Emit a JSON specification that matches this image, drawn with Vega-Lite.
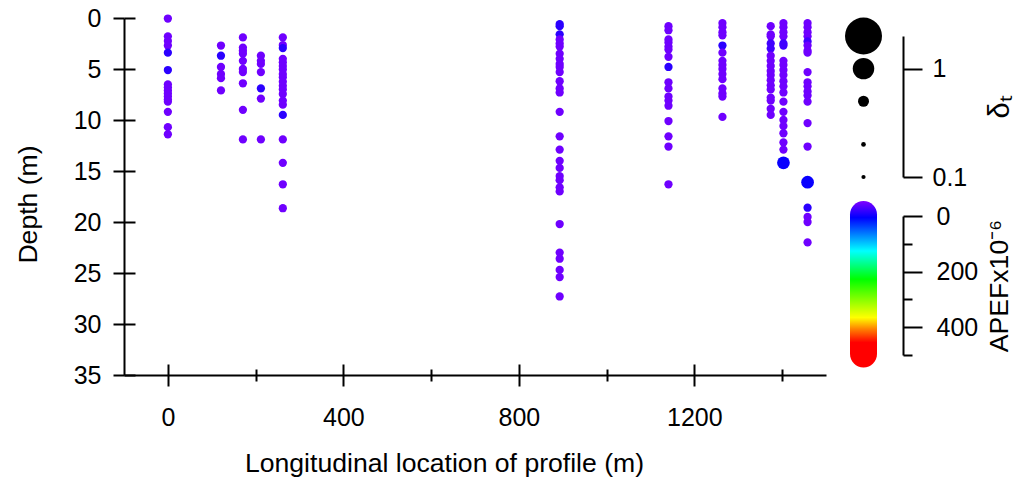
{
  "$schema": "https://vega.github.io/schema/vega-lite/v6.json",
  "background": "white",
  "padding": {"left": 15, "top": 6, "right": 5, "bottom": 5},
  "config": {
    "font": "Liberation Sans",
    "view": {"stroke": null},
    "axis": {
      "labelFont": "Liberation Sans", "titleFont": "Liberation Sans",
      "labelFontSize": 25, "titleFontSize": 26.6, "titleFontWeight": "normal",
      "labelColor": "black", "titleColor": "black", "domainColor": "black", "tickColor": "black",
      "domainWidth": 2, "tickWidth": 2, "grid": false, "labelFlush": false, "labelOverlap": false, "labelBound": false
    }
  },
  "datasets": {
    "profiles": [
      {"loc": 0, "depth": 0.05, "apef": 8, "delta": 0.34},
      {"loc": 0, "depth": 1.8, "apef": 8, "delta": 0.34},
      {"loc": 0, "depth": 2.25, "apef": 8, "delta": 0.34},
      {"loc": 0, "depth": 2.7, "apef": 8, "delta": 0.34},
      {"loc": 0, "depth": 3.4, "apef": 40, "delta": 0.34},
      {"loc": 0, "depth": 5.1, "apef": 40, "delta": 0.34},
      {"loc": 0, "depth": 6.5, "apef": 8, "delta": 0.34},
      {"loc": 0, "depth": 6.8, "apef": 8, "delta": 0.34},
      {"loc": 0, "depth": 7.1, "apef": 8, "delta": 0.34},
      {"loc": 0, "depth": 7.4, "apef": 8, "delta": 0.34},
      {"loc": 0, "depth": 7.7, "apef": 8, "delta": 0.34},
      {"loc": 0, "depth": 8.0, "apef": 8, "delta": 0.34},
      {"loc": 0, "depth": 8.2, "apef": 8, "delta": 0.34},
      {"loc": 0, "depth": 9.2, "apef": 8, "delta": 0.34},
      {"loc": 0, "depth": 10.7, "apef": 8, "delta": 0.34},
      {"loc": 0, "depth": 11.4, "apef": 8, "delta": 0.34},
      {"loc": 121, "depth": 2.7, "apef": 8, "delta": 0.34},
      {"loc": 121, "depth": 3.7, "apef": 40, "delta": 0.34},
      {"loc": 121, "depth": 4.8, "apef": 8, "delta": 0.34},
      {"loc": 121, "depth": 5.5, "apef": 8, "delta": 0.34},
      {"loc": 121, "depth": 5.9, "apef": 8, "delta": 0.34},
      {"loc": 121, "depth": 7.1, "apef": 8, "delta": 0.34},
      {"loc": 171, "depth": 1.9, "apef": 8, "delta": 0.34},
      {"loc": 171, "depth": 2.9, "apef": 8, "delta": 0.34},
      {"loc": 171, "depth": 3.2, "apef": 8, "delta": 0.34},
      {"loc": 171, "depth": 3.5, "apef": 8, "delta": 0.34},
      {"loc": 171, "depth": 4.2, "apef": 8, "delta": 0.34},
      {"loc": 171, "depth": 5.0, "apef": 8, "delta": 0.34},
      {"loc": 171, "depth": 5.3, "apef": 8, "delta": 0.34},
      {"loc": 171, "depth": 6.4, "apef": 8, "delta": 0.34},
      {"loc": 171, "depth": 9.0, "apef": 8, "delta": 0.34},
      {"loc": 171, "depth": 11.9, "apef": 8, "delta": 0.34},
      {"loc": 212, "depth": 3.7, "apef": 8, "delta": 0.34},
      {"loc": 212, "depth": 4.2, "apef": 8, "delta": 0.34},
      {"loc": 212, "depth": 4.5, "apef": 8, "delta": 0.34},
      {"loc": 212, "depth": 5.3, "apef": 8, "delta": 0.34},
      {"loc": 212, "depth": 6.9, "apef": 40, "delta": 0.34},
      {"loc": 212, "depth": 7.9, "apef": 8, "delta": 0.34},
      {"loc": 212, "depth": 11.9, "apef": 8, "delta": 0.34},
      {"loc": 262, "depth": 1.9, "apef": 8, "delta": 0.34},
      {"loc": 262, "depth": 2.65, "apef": 8, "delta": 0.34},
      {"loc": 262, "depth": 2.95, "apef": 40, "delta": 0.34},
      {"loc": 262, "depth": 4.0, "apef": 8, "delta": 0.34},
      {"loc": 262, "depth": 4.35, "apef": 8, "delta": 0.34},
      {"loc": 262, "depth": 4.7, "apef": 8, "delta": 0.34},
      {"loc": 262, "depth": 5.05, "apef": 8, "delta": 0.34},
      {"loc": 262, "depth": 5.5, "apef": 8, "delta": 0.34},
      {"loc": 262, "depth": 5.8, "apef": 8, "delta": 0.34},
      {"loc": 262, "depth": 6.25, "apef": 8, "delta": 0.34},
      {"loc": 262, "depth": 6.65, "apef": 8, "delta": 0.34},
      {"loc": 262, "depth": 7.0, "apef": 8, "delta": 0.34},
      {"loc": 262, "depth": 7.45, "apef": 8, "delta": 0.34},
      {"loc": 262, "depth": 8.1, "apef": 8, "delta": 0.34},
      {"loc": 262, "depth": 8.5, "apef": 8, "delta": 0.34},
      {"loc": 262, "depth": 9.5, "apef": 40, "delta": 0.34},
      {"loc": 262, "depth": 11.9, "apef": 8, "delta": 0.34},
      {"loc": 262, "depth": 14.2, "apef": 8, "delta": 0.34},
      {"loc": 262, "depth": 16.3, "apef": 8, "delta": 0.34},
      {"loc": 262, "depth": 18.65, "apef": 8, "delta": 0.34},
      {"loc": 893, "depth": 0.6, "apef": 40, "delta": 0.34},
      {"loc": 893, "depth": 0.8, "apef": 40, "delta": 0.34},
      {"loc": 893, "depth": 1.6, "apef": 40, "delta": 0.34},
      {"loc": 893, "depth": 2.1, "apef": 8, "delta": 0.34},
      {"loc": 893, "depth": 2.5, "apef": 8, "delta": 0.34},
      {"loc": 893, "depth": 2.8, "apef": 8, "delta": 0.34},
      {"loc": 893, "depth": 3.5, "apef": 8, "delta": 0.34},
      {"loc": 893, "depth": 4.0, "apef": 8, "delta": 0.34},
      {"loc": 893, "depth": 4.5, "apef": 8, "delta": 0.34},
      {"loc": 893, "depth": 4.8, "apef": 8, "delta": 0.34},
      {"loc": 893, "depth": 5.3, "apef": 8, "delta": 0.34},
      {"loc": 893, "depth": 6.2, "apef": 8, "delta": 0.34},
      {"loc": 893, "depth": 6.9, "apef": 8, "delta": 0.34},
      {"loc": 893, "depth": 7.3, "apef": 8, "delta": 0.34},
      {"loc": 893, "depth": 9.2, "apef": 8, "delta": 0.34},
      {"loc": 893, "depth": 11.6, "apef": 8, "delta": 0.34},
      {"loc": 893, "depth": 12.9, "apef": 8, "delta": 0.34},
      {"loc": 893, "depth": 14.0, "apef": 8, "delta": 0.34},
      {"loc": 893, "depth": 14.7, "apef": 8, "delta": 0.34},
      {"loc": 893, "depth": 15.5, "apef": 8, "delta": 0.34},
      {"loc": 893, "depth": 15.9, "apef": 8, "delta": 0.34},
      {"loc": 893, "depth": 16.6, "apef": 8, "delta": 0.34},
      {"loc": 893, "depth": 17.0, "apef": 8, "delta": 0.34},
      {"loc": 893, "depth": 20.2, "apef": 8, "delta": 0.34},
      {"loc": 893, "depth": 23.0, "apef": 8, "delta": 0.34},
      {"loc": 893, "depth": 23.6, "apef": 8, "delta": 0.34},
      {"loc": 893, "depth": 24.7, "apef": 8, "delta": 0.34},
      {"loc": 893, "depth": 25.4, "apef": 8, "delta": 0.34},
      {"loc": 893, "depth": 27.3, "apef": 8, "delta": 0.34},
      {"loc": 1141, "depth": 0.8, "apef": 8, "delta": 0.34},
      {"loc": 1141, "depth": 1.2, "apef": 8, "delta": 0.34},
      {"loc": 1141, "depth": 2.1, "apef": 8, "delta": 0.34},
      {"loc": 1141, "depth": 2.4, "apef": 8, "delta": 0.34},
      {"loc": 1141, "depth": 2.8, "apef": 8, "delta": 0.34},
      {"loc": 1141, "depth": 3.1, "apef": 8, "delta": 0.34},
      {"loc": 1141, "depth": 3.8, "apef": 8, "delta": 0.34},
      {"loc": 1141, "depth": 4.8, "apef": 40, "delta": 0.34},
      {"loc": 1141, "depth": 6.3, "apef": 8, "delta": 0.34},
      {"loc": 1141, "depth": 6.9, "apef": 8, "delta": 0.34},
      {"loc": 1141, "depth": 7.7, "apef": 8, "delta": 0.34},
      {"loc": 1141, "depth": 8.1, "apef": 8, "delta": 0.34},
      {"loc": 1141, "depth": 8.6, "apef": 8, "delta": 0.34},
      {"loc": 1141, "depth": 10.1, "apef": 8, "delta": 0.34},
      {"loc": 1141, "depth": 11.6, "apef": 8, "delta": 0.34},
      {"loc": 1141, "depth": 12.6, "apef": 8, "delta": 0.34},
      {"loc": 1141, "depth": 16.3, "apef": 8, "delta": 0.34},
      {"loc": 1264, "depth": 0.5, "apef": 8, "delta": 0.34},
      {"loc": 1264, "depth": 0.9, "apef": 8, "delta": 0.34},
      {"loc": 1264, "depth": 1.4, "apef": 8, "delta": 0.34},
      {"loc": 1264, "depth": 1.7, "apef": 8, "delta": 0.34},
      {"loc": 1264, "depth": 2.7, "apef": 40, "delta": 0.34},
      {"loc": 1264, "depth": 3.4, "apef": 8, "delta": 0.34},
      {"loc": 1264, "depth": 4.2, "apef": 8, "delta": 0.34},
      {"loc": 1264, "depth": 4.6, "apef": 8, "delta": 0.34},
      {"loc": 1264, "depth": 5.0, "apef": 8, "delta": 0.34},
      {"loc": 1264, "depth": 5.5, "apef": 8, "delta": 0.34},
      {"loc": 1264, "depth": 6.0, "apef": 8, "delta": 0.34},
      {"loc": 1264, "depth": 6.9, "apef": 8, "delta": 0.34},
      {"loc": 1264, "depth": 7.4, "apef": 8, "delta": 0.34},
      {"loc": 1264, "depth": 7.7, "apef": 8, "delta": 0.34},
      {"loc": 1264, "depth": 9.7, "apef": 8, "delta": 0.34},
      {"loc": 1374, "depth": 0.8, "apef": 8, "delta": 0.34},
      {"loc": 1374, "depth": 1.6, "apef": 8, "delta": 0.34},
      {"loc": 1374, "depth": 1.8, "apef": 8, "delta": 0.34},
      {"loc": 1374, "depth": 2.5, "apef": 30, "delta": 0.34},
      {"loc": 1374, "depth": 3.0, "apef": 30, "delta": 0.34},
      {"loc": 1374, "depth": 3.7, "apef": 8, "delta": 0.34},
      {"loc": 1374, "depth": 4.2, "apef": 8, "delta": 0.34},
      {"loc": 1374, "depth": 4.7, "apef": 8, "delta": 0.34},
      {"loc": 1374, "depth": 5.2, "apef": 8, "delta": 0.34},
      {"loc": 1374, "depth": 5.6, "apef": 8, "delta": 0.34},
      {"loc": 1374, "depth": 6.1, "apef": 8, "delta": 0.34},
      {"loc": 1374, "depth": 6.6, "apef": 8, "delta": 0.34},
      {"loc": 1374, "depth": 7.0, "apef": 8, "delta": 0.34},
      {"loc": 1374, "depth": 7.8, "apef": 8, "delta": 0.34},
      {"loc": 1374, "depth": 8.1, "apef": 8, "delta": 0.34},
      {"loc": 1374, "depth": 8.9, "apef": 8, "delta": 0.34},
      {"loc": 1374, "depth": 9.5, "apef": 8, "delta": 0.34},
      {"loc": 1403, "depth": 0.5, "apef": 8, "delta": 0.34},
      {"loc": 1403, "depth": 0.9, "apef": 8, "delta": 0.34},
      {"loc": 1403, "depth": 1.4, "apef": 8, "delta": 0.34},
      {"loc": 1403, "depth": 1.8, "apef": 8, "delta": 0.34},
      {"loc": 1403, "depth": 2.5, "apef": 30, "delta": 0.34},
      {"loc": 1403, "depth": 2.7, "apef": 30, "delta": 0.34},
      {"loc": 1403, "depth": 4.2, "apef": 8, "delta": 0.34},
      {"loc": 1403, "depth": 4.6, "apef": 8, "delta": 0.34},
      {"loc": 1403, "depth": 5.1, "apef": 8, "delta": 0.34},
      {"loc": 1403, "depth": 5.6, "apef": 8, "delta": 0.34},
      {"loc": 1403, "depth": 6.2, "apef": 8, "delta": 0.34},
      {"loc": 1403, "depth": 6.7, "apef": 8, "delta": 0.34},
      {"loc": 1403, "depth": 7.3, "apef": 8, "delta": 0.34},
      {"loc": 1403, "depth": 8.2, "apef": 8, "delta": 0.34},
      {"loc": 1403, "depth": 9.2, "apef": 8, "delta": 0.34},
      {"loc": 1403, "depth": 10.0, "apef": 8, "delta": 0.34},
      {"loc": 1403, "depth": 10.6, "apef": 8, "delta": 0.34},
      {"loc": 1403, "depth": 11.3, "apef": 8, "delta": 0.34},
      {"loc": 1403, "depth": 12.2, "apef": 8, "delta": 0.34},
      {"loc": 1403, "depth": 12.9, "apef": 8, "delta": 0.34},
      {"loc": 1403, "depth": 14.2, "apef": 56, "delta": 0.56},
      {"loc": 1458, "depth": 0.5, "apef": 8, "delta": 0.34},
      {"loc": 1458, "depth": 0.9, "apef": 8, "delta": 0.34},
      {"loc": 1458, "depth": 1.4, "apef": 8, "delta": 0.34},
      {"loc": 1458, "depth": 1.8, "apef": 8, "delta": 0.34},
      {"loc": 1458, "depth": 2.3, "apef": 30, "delta": 0.34},
      {"loc": 1458, "depth": 2.7, "apef": 8, "delta": 0.34},
      {"loc": 1458, "depth": 3.2, "apef": 8, "delta": 0.34},
      {"loc": 1458, "depth": 3.4, "apef": 8, "delta": 0.34},
      {"loc": 1458, "depth": 5.3, "apef": 8, "delta": 0.34},
      {"loc": 1458, "depth": 6.3, "apef": 8, "delta": 0.34},
      {"loc": 1458, "depth": 6.7, "apef": 8, "delta": 0.34},
      {"loc": 1458, "depth": 7.2, "apef": 8, "delta": 0.34},
      {"loc": 1458, "depth": 7.6, "apef": 8, "delta": 0.34},
      {"loc": 1458, "depth": 8.2, "apef": 8, "delta": 0.34},
      {"loc": 1458, "depth": 10.3, "apef": 8, "delta": 0.34},
      {"loc": 1458, "depth": 12.6, "apef": 8, "delta": 0.34},
      {"loc": 1458, "depth": 16.1, "apef": 56, "delta": 0.56},
      {"loc": 1458, "depth": 18.6, "apef": 40, "delta": 0.34},
      {"loc": 1458, "depth": 19.5, "apef": 8, "delta": 0.34},
      {"loc": 1458, "depth": 20.0, "apef": 8, "delta": 0.34},
      {"loc": 1458, "depth": 22.0, "apef": 8, "delta": 0.34}
    ],
    "sizeKey": [{"delta": 2}, {"delta": 1}, {"delta": 0.5}, {"delta": 0.2}, {"delta": 0.1}],
    "colorKey": [{"lo": -54, "hi": 545}]
  },
  "bounds": "flush",
  "spacing": 24,
  "hconcat": [
    {
      "width": 702,
      "height": 357,
      "data": {"name": "profiles"},
      "layer": [
        {
          "mark": {"type": "circle", "opacity": 1},
          "encoding": {
            "x": {
              "field": "loc", "type": "quantitative",
              "scale": {"domain": [-100, 1500], "nice": false, "zero": false},
              "axis": {
                "orient": "bottom", "values": [0, 200, 400, 600, 800, 1000, 1200, 1400], "format": "d",
                "labelExpr": "datum.value % 400 === 0 ? datum.label : ''",
                "tickSize": {"condition": {"test": "datum.value % 400 === 0", "value": 11}, "value": 6},
                "labelPadding": 19,
                "title": "Longitudinal location of profile (m)", "titlePadding": 20, "titleX": 320
              }
            },
            "y": {
              "field": "depth", "type": "quantitative",
              "scale": {"domain": [0, 35], "reverse": true, "nice": false, "zero": false},
              "axis": {
                "orient": "left", "values": [0, 5, 10, 15, 20, 25, 30, 35],
                "tickSize": 11, "labelPadding": 12,
                "title": "Depth (m)", "titlePadding": 31, "titleY": 186
              }
            },
            "color": {
              "field": "apef", "type": "quantitative",
              "scale": {"domain": [0, 60, 150, 250, 370, 430, 500], "range": ["#8000ff", "#0000ff", "#00ffff", "#00ff00", "#ffff00", "#ff8000", "#ff0000"], "interpolate": "rgb"},
              "legend": null
            },
            "size": {
              "field": "delta", "type": "quantitative",
              "scale": {"domain": [0, 0.1, 0.2, 0.5, 1, 2], "range": [0, 18, 22, 121, 462, 1369], "zero": false, "nice": false},
              "legend": null
            }
          }
        },
        {
          "mark": {"type": "point", "opacity": 0},
          "encoding": {
            "x": {
              "field": "loc", "type": "quantitative",
              "scale": {"domain": [-100, 1500], "nice": false, "zero": false},
              "axis": {
                "orient": "bottom", "values": [0, 200, 400, 600, 800, 1000, 1200, 1400],
                "labels": false, "domain": false, "title": null,
                "tickSize": {"condition": {"test": "datum.value % 400 === 0", "value": -11}, "value": -6}
              }
            },
            "y": {
              "field": "depth", "type": "quantitative",
              "scale": {"domain": [0, 35], "reverse": true, "nice": false, "zero": false},
              "axis": {
                "orient": "left", "values": [0, 5, 10, 15, 20, 25, 30, 35],
                "labels": false, "domain": false, "title": null, "tickSize": -11
              }
            }
          }
        }
      ],
      "resolve": {"axis": {"x": "independent", "y": "independent"}}
    },
    {
      "bounds": "flush",
      "spacing": 39,
      "vconcat": [
        {
          "width": 27,
          "height": 159,
          "data": {"name": "sizeKey"},
          "mark": {"type": "circle", "color": "black", "opacity": 1},
          "encoding": {
            "y": {
              "field": "delta", "type": "quantitative",
              "scale": {"type": "log", "domain": [0.1, 2], "range": [159, 18], "nice": false},
              "axis": {
                "orient": "right", "offset": 26, "values": [0.1, 1], "format": "~g",
                "tickSize": 19, "labelPadding": 10,
                "title": "δₜ", "titleAngle": 270, "titleBaseline": "top", "titlePadding": 19, "titleFontSize": 29
              }
            },
            "size": {
              "field": "delta", "type": "quantitative",
              "scale": {"domain": [0, 0.1, 0.2, 0.5, 1, 2], "range": [0, 18, 22, 121, 462, 1369], "zero": false, "nice": false},
              "legend": null
            }
          }
        },
        {
          "width": 27,
          "height": 139,
          "data": {"name": "colorKey"},
          "mark": {
            "type": "rect", "cornerRadius": 13.5,
            "fill": {
              "gradient": "linear", "x1": 0, "y1": 0, "x2": 0, "y2": 1,
              "stops": [
                {"offset": 0, "color": "#8000ff"},
                {"offset": 0.1, "color": "#0000ff"},
                {"offset": 0.3, "color": "#00ffff"},
                {"offset": 0.47, "color": "#00ff00"},
                {"offset": 0.7, "color": "#ffff00"},
                {"offset": 0.77, "color": "#ff8000"},
                {"offset": 0.85, "color": "#ff0000"},
                {"offset": 1, "color": "#ff0000"}
              ]
            }
          },
          "encoding": {
            "y": {
              "field": "lo", "type": "quantitative",
              "scale": {"domain": [0, 500], "reverse": true, "nice": false, "zero": false},
              "axis": {
                "orient": "right", "offset": 26, "values": [0, 100, 200, 300, 400, 500], "format": "d",
                "labelExpr": "datum.value % 200 === 0 ? datum.label : ''",
                "tickSize": {"condition": {"test": "datum.value % 200 === 0", "value": 19}, "value": 9},
                "labelPadding": 14,
                "title": "APEFx10⁻⁶", "titleAngle": 270, "titleBaseline": "top", "titlePadding": 9
              }
            },
            "y2": {"field": "hi"}
          }
        }
      ]
    }
  ]
}
